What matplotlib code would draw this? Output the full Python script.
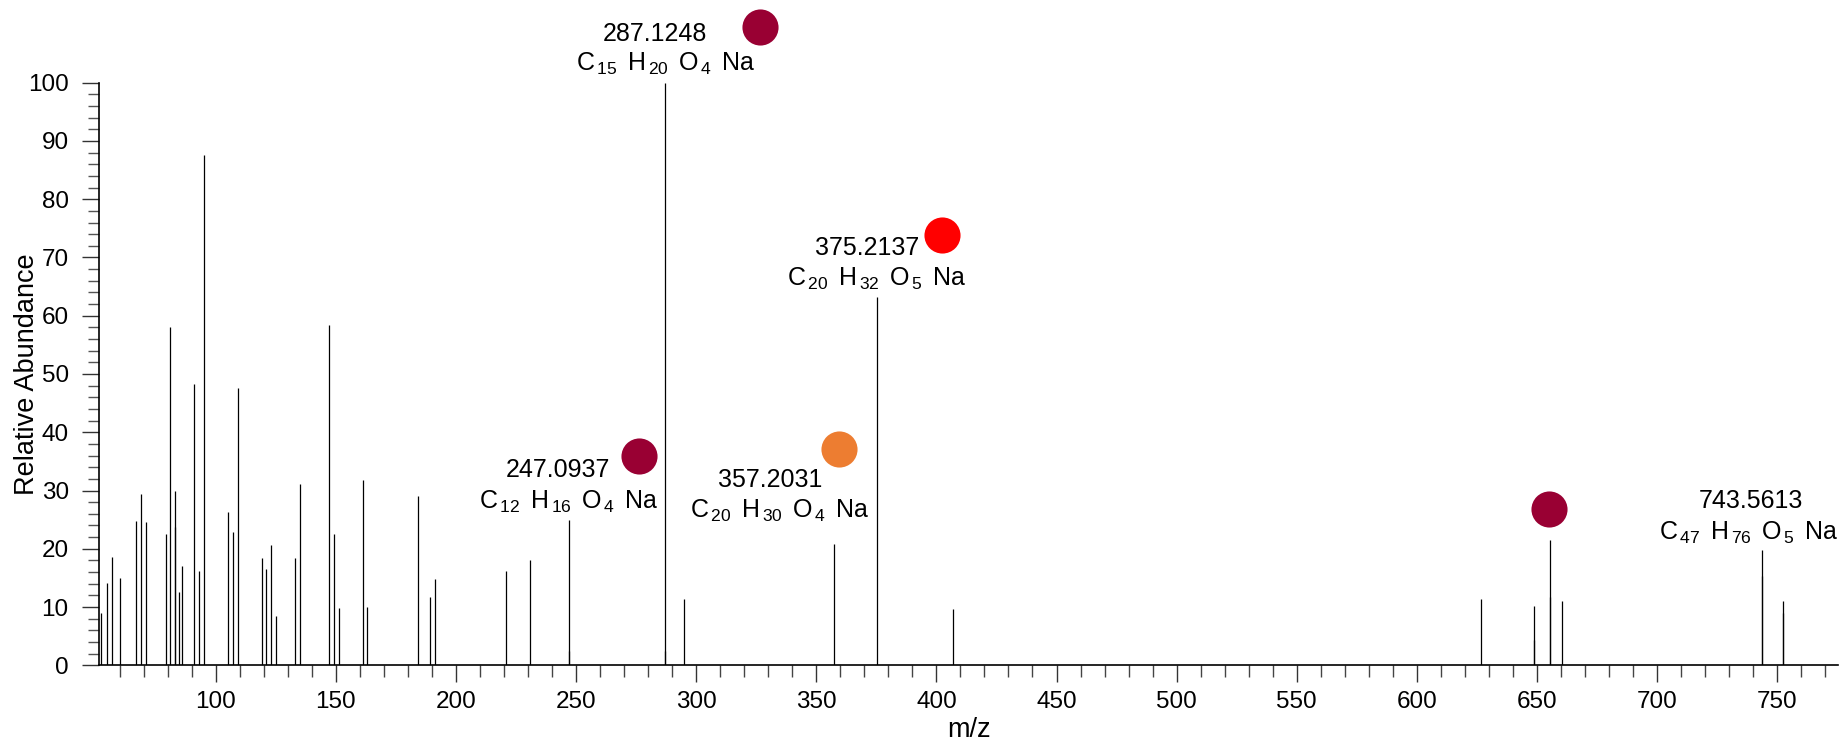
import matplotlib
matplotlib.use("Agg")
import matplotlib.pyplot as plt
from matplotlib.ticker import MultipleLocator
from matplotlib.transforms import offset_copy

plt.rcParams['font.family'] = ['Liberation Sans', 'DejaVu Sans']
plt.rcParams['mathtext.fontset'] = 'custom'
plt.rcParams['mathtext.rm'] = 'Liberation Sans'
plt.rcParams['mathtext.it'] = 'Liberation Sans'
plt.rcParams['mathtext.default'] = 'rm'

# ---------------- data ----------------
mz = [52.4, 54.9, 57.0, 60.0, 67.0, 69.0, 71.1, 79.2, 81.1, 82.9, 83.1, 84.8, 86.0,
      91.0, 93.0, 95.1, 105.0, 107.1, 109.2, 119.1, 121.1, 123.0, 125.0, 133.0, 135.1,
      147.0, 149.2, 151.5, 161.2, 163.0, 184.1, 189.1, 191.2, 220.8, 231.0,
      247.0937, 287.1248, 294.8, 357.2031, 375.2137, 406.8,
      626.7, 648.9, 655.4, 660.4, 743.5613, 752.2]
abundance = [8.9, 14.1, 18.6, 14.9, 24.8, 29.4, 24.6, 22.5, 58.0, 23.8, 30.0, 12.5, 17.0,
             48.3, 16.2, 87.6, 26.3, 22.8, 47.6, 18.4, 16.5, 20.6, 8.5, 18.5, 31.2,
             58.4, 22.5, 9.8, 31.8, 10.0, 29.1, 11.7, 14.8, 16.2, 18.1,
             24.9, 100.0, 11.4, 20.8, 63.2, 9.7,
             11.3, 10.1, 21.5, 11.0, 19.8, 11.0]

overlay_mz = [247.2, 287.2, 648.9, 655.4, 743.5, 752.2]
overlay_abundance = [2.5, 2.5, 4.3, 11.8, 15.3, 8.9]

label_mz = [247.0937, 287.1248, 357.2031, 375.2137, 743.5613]
label_abundance = [24.9, 100.0, 20.8, 63.2, 19.8]
label_mass = ["247.0937", "287.1248", "357.2031", "375.2137", "743.5613"]
label_formula = [r"C$_{\,12}\,$ H$_{\,16}\,$ O$_{\,4}\,$ Na",
                 r"C$_{\,15}\,$ H$_{\,20}\,$ O$_{\,4}\,$ Na",
                 r"C$_{\,20}\,$ H$_{\,30}\,$ O$_{\,4}\,$ Na",
                 r"C$_{\,20}\,$ H$_{\,32}\,$ O$_{\,5}\,$ Na",
                 r"C$_{\,47}\,$ H$_{\,76}\,$ O$_{\,5}\,$ Na"]

marker_mz = [247.0937, 287.1248, 357.2031, 375.2137, 655.4]
marker_abundance = [24.9, 100.0, 20.8, 63.2, 21.5]
marker_colors = ["#990033", "#990033", "#ED7D31", "#FF0000", "#990033"]

# ---------------- layout (pixel offsets) ----------------
mass_off = [(-11, 43), (-10.5, 42), (-63, 57), (-10, 42), (-10.5, 42)]
form_off = [(0, 11), (0, 12), (-53.5, 26.5), (0, 11), (-13.5, 10.5)]
marker_off = [(70, 64), (95, 56), (5, 95), (65.5, 62), (-1, 31)]

W, H = 1842, 745
fig = plt.figure(figsize=(W / 100, H / 100), dpi=100)
ax = fig.add_axes([99.3 / W, (H - 665.3) / H, (1838 - 99.3) / W, 582.6 / H])

ax.vlines(mz, 0, abundance, color="black", linewidth=0.9)
ax.vlines(overlay_mz, 0, overlay_abundance, color="black", linewidth=0.9)

ax.set_xlim(51.55, 775.3)
ax.set_ylim(0, 100)

for s in ["top", "right"]:
    ax.spines[s].set_visible(False)
for s in ["left", "bottom"]:
    ax.spines[s].set_linewidth(1.2)

ax.xaxis.set_major_locator(MultipleLocator(50))
ax.xaxis.set_minor_locator(MultipleLocator(10))
ax.yaxis.set_major_locator(MultipleLocator(10))
ax.yaxis.set_minor_locator(MultipleLocator(2))
ax.tick_params(axis="x", which="major", length=12.5, width=1.0, labelsize=17.5, pad=6,
               color="#333333")
ax.tick_params(axis="x", which="minor", length=8.6, width=1.0, color="#444444")
ax.tick_params(axis="y", which="major", length=12, width=1.0, labelsize=17.5, pad=10,
               color="#333333")
ax.tick_params(axis="y", which="minor", length=8, width=1.0, color="#555555")

ax.set_xlabel("m/z", fontsize=19.5, labelpad=3)
ax.set_ylabel("Relative Abundance", fontsize=19.5)
ax.yaxis.set_label_coords(-0.034, 0.5)

for x, y, txt, f, mo, fo in zip(label_mz, label_abundance, label_mass, label_formula,
                                mass_off, form_off):
    ax.annotate(txt, xy=(x, y), xytext=mo, textcoords="offset pixels",
                ha="center", va="baseline", fontsize=18, annotation_clip=False)
    ax.annotate(f, xy=(x, y), xytext=fo, textcoords="offset pixels",
                ha="center", va="baseline", fontsize=18, annotation_clip=False)

for x, y, c, (dx, dy) in zip(marker_mz, marker_abundance, marker_colors, marker_off):
    tr = offset_copy(ax.transData, fig=fig, x=dx, y=dy, units="dots")
    ax.plot([x], [y], "o", color=c, markersize=26, markeredgewidth=0,
            transform=tr, clip_on=False)

fig.savefig("out.png", dpi=100)
